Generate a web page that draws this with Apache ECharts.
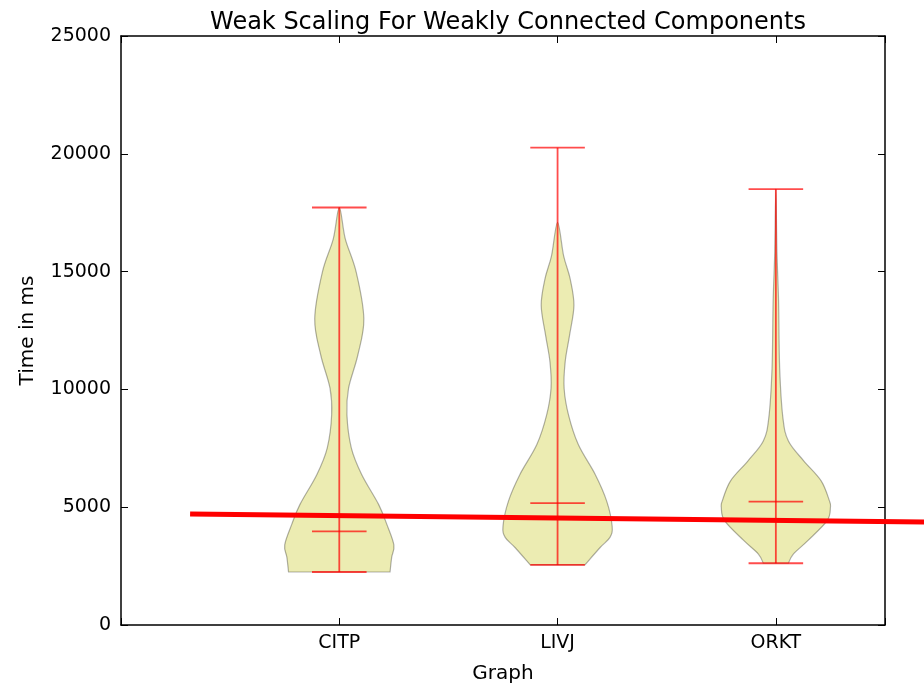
<!DOCTYPE html>
<html>
<head>
<meta charset="utf-8">
<script src="https://cdn.jsdelivr.net/npm/echarts@6/dist/echarts.min.js"></script>
<style>
  html, body { margin: 0; padding: 0; background: #fff; }
  #chart { width: 924px; height: 689px; }
</style>
</head>
<body>
<div id="chart"></div>
<script>
// Graph names along the x axis (placed at x = 1, 2, 3)
const categories = ['CITP', 'LIVJ', 'ORKT'];
const yTicks = [0, 5000, 10000, 15000, 20000, 25000];

// Run-time summary per graph (ms)
const minTimes = [2250, 2550, 2620];
const maxTimes = [17720, 20260, 18500];
const medianTimes = [3970, 5170, 5240];

// Violin outlines: [time in ms, relative half-width (1 = widest)]
const profileCITP = [
  [2250, 0.93], [2870, 0.96], [3400, 1.0], [4280, 0.87], [5120, 0.72],
  [6390, 0.41], [7520, 0.22], [8920, 0.14], [10050, 0.17], [11460, 0.34],
  [13000, 0.45], [14980, 0.31], [16390, 0.11], [17720, 0.0]
];
const profileLIVJ = [
  [2550, 0.50], [3290, 0.78], [3720, 0.96], [4200, 1.0], [5260, 0.90],
  [6390, 0.69], [7660, 0.38], [8920, 0.20], [10050, 0.12], [11180, 0.14],
  [12300, 0.22], [13570, 0.30], [14700, 0.23], [15680, 0.11], [17090, 0.0]
];
const profileORKT = [
  [2620, 0.23], [3010, 0.32], [3590, 0.59], [4430, 0.94], [5000, 1.0],
  [5280, 0.98], [6120, 0.83], [6970, 0.51], [7810, 0.23], [8780, 0.13],
  [10900, 0.07], [13730, 0.05], [15840, 0.02], [18500, 0.0]
];
const profiles = [profileCITP, profileLIVJ, profileORKT];

// Reference line drawn across the panel: [x, time]
const trendLine = [[0.3165, 4709], [3.683, 4371]];

const violinWidth = 0.5;   // full width of the widest violin, in x units
const capWidth = 0.25;     // width of min / max / median bars

const FONT = 'DejaVu Sans';
const chart = echarts.init(document.getElementById('chart'), null, { renderer: 'canvas' });

// Smooth open curve through pixel points (Catmull-Rom converted to cubic Bezier)
function smoothPath(pts) {
  let d = 'M' + pts[0][0].toFixed(2) + ' ' + pts[0][1].toFixed(2);
  for (let i = 0; i < pts.length - 1; i++) {
    const p0 = pts[Math.max(i - 1, 0)];
    const p1 = pts[i];
    const p2 = pts[i + 1];
    const p3 = pts[Math.min(i + 2, pts.length - 1)];
    const c1 = [p1[0] + (p2[0] - p0[0]) / 6, p1[1] + (p2[1] - p0[1]) / 6];
    const c2 = [p2[0] - (p3[0] - p1[0]) / 6, p2[1] - (p3[1] - p1[1]) / 6];
    d += ' C' + c1[0].toFixed(2) + ' ' + c1[1].toFixed(2) + ' ' +
         c2[0].toFixed(2) + ' ' + c2[1].toFixed(2) + ' ' +
         p2[0].toFixed(2) + ' ' + p2[1].toFixed(2);
  }
  return d + ' Z';
}

function violinItem(params, api) {
  const idx = params.dataIndex;
  const pos = idx + 1;
  const prof = profiles[idx];
  const half = violinWidth / 2;
  const left = prof.map(p => api.coord([pos - p[1] * half, p[0]]));
  const right = prof.slice(0, -1).reverse().map(p => api.coord([pos + p[1] * half, p[0]]));
  return {
    type: 'path',
    shape: { pathData: smoothPath(left.concat(right)) },
    style: { fill: 'rgba(191,191,0,0.3)', stroke: 'rgba(0,0,0,0.3)', lineWidth: 1.2 }
  };
}

function statsItem(params, api) {
  const idx = params.dataIndex;
  const pos = idx + 1;
  const h = capWidth / 2;
  const style = { stroke: 'rgba(255,0,0,0.7)', lineWidth: 1.8 };
  const seg = (x1, y1, x2, y2) => {
    const a = api.coord([x1, y1]);
    const b = api.coord([x2, y2]);
    return { type: 'line', shape: { x1: a[0], y1: a[1], x2: b[0], y2: b[1] }, style };
  };
  return {
    type: 'group',
    children: [
      seg(pos, minTimes[idx], pos, maxTimes[idx]),
      seg(pos - h, minTimes[idx], pos + h, minTimes[idx]),
      seg(pos - h, maxTimes[idx], pos + h, maxTimes[idx]),
      seg(pos - h, medianTimes[idx], pos + h, medianTimes[idx])
    ]
  };
}

function trendItem(params, api) {
  if (params.dataIndex !== 0) return null;
  const a = api.coord(trendLine[0]);
  const b = api.coord(trendLine[1]);
  return {
    type: 'line',
    shape: { x1: a[0], y1: a[1], x2: b[0], y2: b[1] },
    style: { stroke: '#ff0000', lineWidth: 5 }
  };
}

const axisLabelStyle = { color: '#000', fontFamily: FONT, fontSize: 19 };
const frameLine = { show: true, onZero: false, lineStyle: { color: '#000', width: 1.5 } };
const innerTick = { show: true, inside: true, length: 7, lineStyle: { color: '#000', width: 1 } };

const option = {
  backgroundColor: '#fff',
  animation: false,
  title: {
    text: 'Weak Scaling For Weakly Connected Components',
    left: 503, top: 6, textAlign: 'center',
    textStyle: { color: '#000', fontFamily: FONT, fontSize: 24, fontWeight: 'normal' }
  },
  grid: { left: 121, right: 39, top: 36, bottom: 61, containLabel: false },
  xAxis: [
    {
      type: 'value', min: 0, max: 3.5, interval: 1, position: 'bottom',
      axisLine: frameLine, axisTick: innerTick, splitLine: { show: false },
      axisLabel: Object.assign({}, axisLabelStyle, {
        margin: 9,
        formatter: v => (Number.isInteger(v) && v >= 1 && v <= categories.length) ? categories[v - 1] : ''
      }),
      name: 'Graph', nameLocation: 'middle', nameGap: 39,
      nameTextStyle: { color: '#000', fontFamily: FONT, fontSize: 20 }
    },
    {
      type: 'value', min: 0, max: 3.5, interval: 1, position: 'top',
      axisLine: frameLine, axisTick: innerTick, splitLine: { show: false },
      axisLabel: { show: false }
    }
  ],
  yAxis: [
    {
      type: 'value', min: yTicks[0], max: yTicks[yTicks.length - 1], interval: 5000, position: 'left',
      axisLine: frameLine, axisTick: innerTick, splitLine: { show: false },
      axisLabel: Object.assign({}, axisLabelStyle, { margin: 10, formatter: v => String(v) }),
      name: 'Time in ms', nameLocation: 'middle', nameGap: 83, nameRotate: 90,
      nameTextStyle: { color: '#000', fontFamily: FONT, fontSize: 20 }
    },
    {
      type: 'value', min: yTicks[0], max: yTicks[yTicks.length - 1], interval: 5000, position: 'right',
      axisLine: frameLine, axisTick: innerTick, splitLine: { show: false },
      axisLabel: { show: false }
    }
  ],
  series: [
    {
      type: 'custom', name: 'violins', renderItem: violinItem,
      data: categories.map((c, i) => [i + 1, medianTimes[i]]), z: 2
    },
    {
      type: 'custom', name: 'stats', renderItem: statsItem,
      data: categories.map((c, i) => [i + 1, medianTimes[i]]), z: 3
    },
    {
      type: 'custom', name: 'trend', renderItem: trendItem, clip: false,
      data: trendLine, z: 5
    }
  ]
};

chart.setOption(option);
</script>
</body>
</html>
